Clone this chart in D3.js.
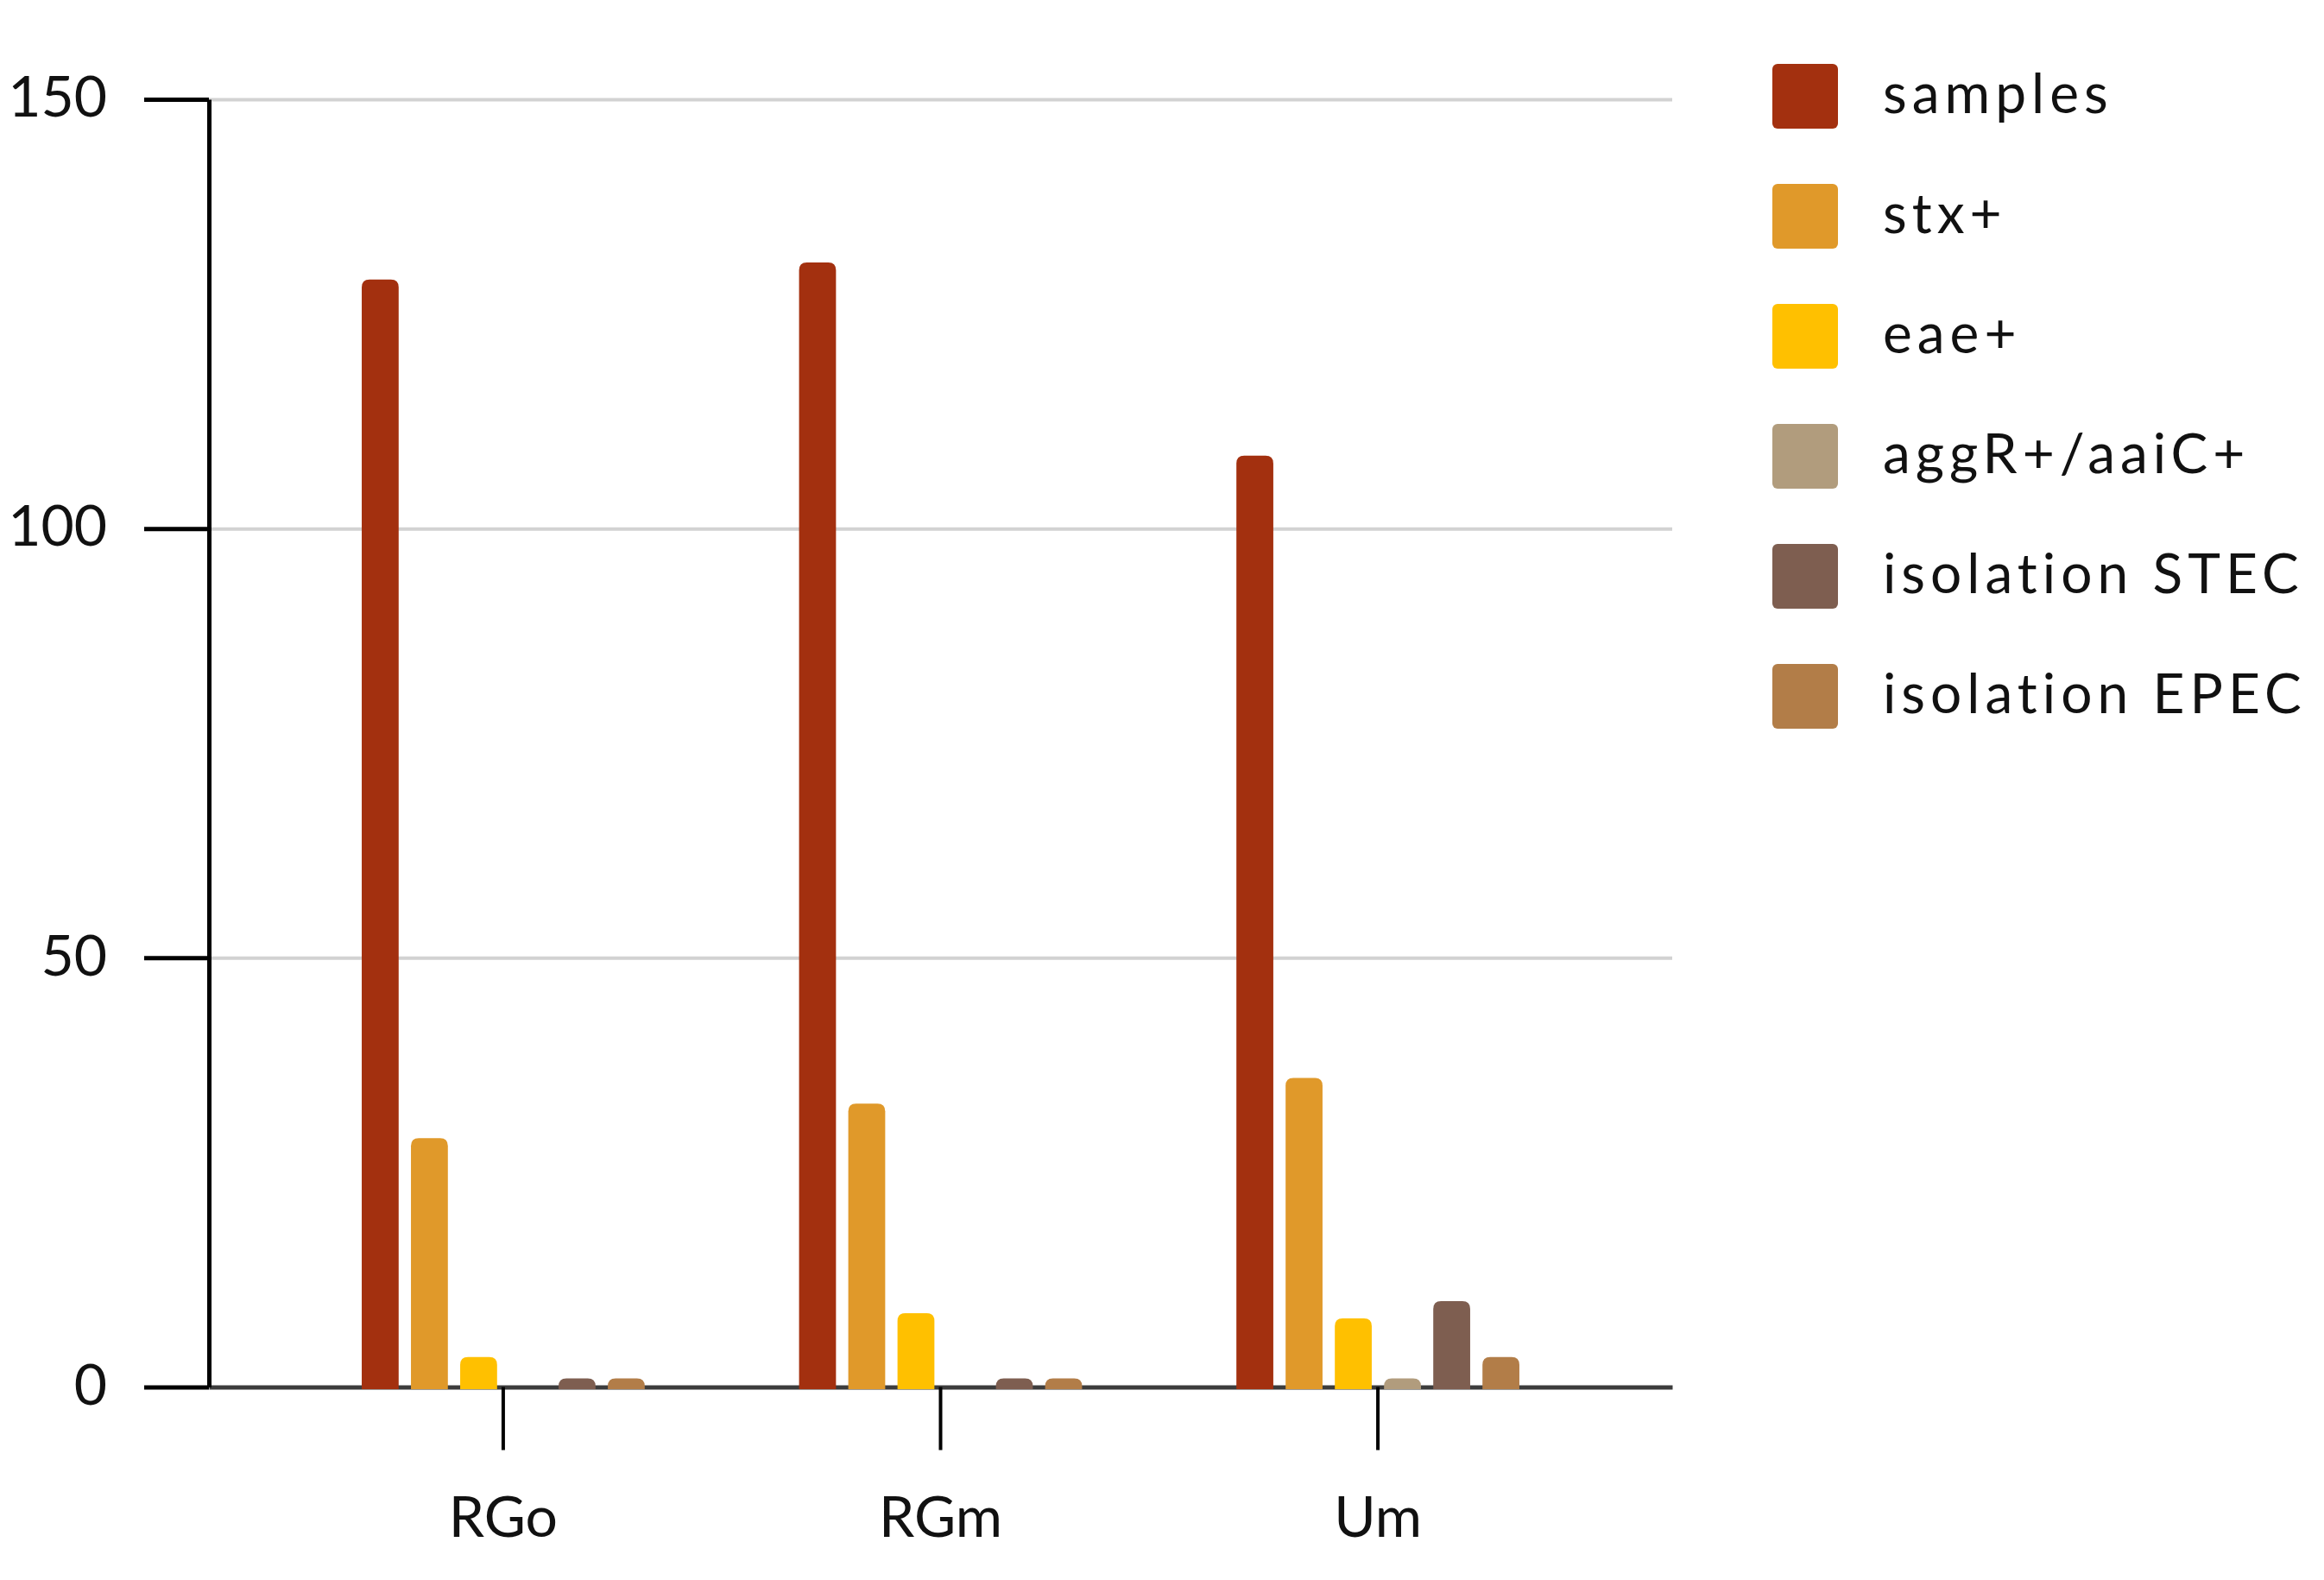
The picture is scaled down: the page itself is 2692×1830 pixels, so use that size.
<!DOCTYPE html>
<html>
<head>
<meta charset="utf-8">
<script src="https://cdn.jsdelivr.net/npm/d3@7"></script>
<style>
  body { margin: 0; background: #fff; }
  text { font-family: Lato, "Open Sans", sans-serif; fill: #111; }
</style>
</head>
<body>
<div id="chart"></div>
<script>
const categories = ["RGo", "RGm", "Um"];
const series = ["samples", "stx+", "eae+", "aggR+/aaiC+", "isolation STEC", "isolation EPEC"];
const colors = ["#a3300f", "#e0992a", "#ffc000", "#b19c7d", "#7e5e50", "#b27d48"];
// values per category, in series order
const valuesRGo = [129, 29, 3.5, 0, 1, 1];
const valuesRGm = [131, 33, 8.6, 0, 1, 1];
const valuesUm = [108.5, 36, 8, 1, 10, 3.5];
const yTicks = [0, 50, 100, 150];

const values = [valuesRGo, valuesRGm, valuesUm];

const width = 2692;
const height = 1830;
const plotLeft = 242, plotRight = 1937, plotTop = 115, plotBottom = 1606.5;

const svg = d3.select("#chart")
    .append("svg")
    .attr("width", width)
    .attr("height", height);

const x0 = d3.scaleBand()
    .domain(categories)
    .range([plotLeft, plotRight])
    .paddingInner(0)
    .paddingOuter(0.173);

const x1 = d3.scaleBand()
    .domain(series)
    .range([0, x0.bandwidth()])
    .paddingInner(0.25)
    .paddingOuter(1.568);

const y = d3.scaleLinear()
    .domain([0, 150])
    .range([plotBottom, plotTop]);

const color = d3.scaleOrdinal().domain(series).range(colors);

// grid lines
svg.append("g")
    .attr("transform", `translate(${plotLeft},0)`)
    .call(d3.axisLeft(y).tickValues(yTicks.slice(1)).tickSize(-(plotRight - plotLeft)).tickFormat(""))
    .call(g => g.select(".domain").remove())
    .call(g => g.selectAll("line").attr("stroke", "#d2d2d2").attr("stroke-width", 4));

// x axis (baseline + category ticks)
const xAxis = svg.append("g")
    .attr("transform", `translate(0,${plotBottom})`)
    .call(d3.axisBottom(x0).tickSize(73).tickSizeOuter(0).tickPadding(54));
xAxis.select(".domain").attr("stroke", "#3c3c3c").attr("stroke-width", 5);
xAxis.selectAll(".tick line").attr("stroke", "#000").attr("stroke-width", 4);
xAxis.selectAll(".tick text")
    .attr("font-size", 66)
    .attr("font-family", "Lato, sans-serif")
    .attr("fill", "#111");

// y axis
const yAxis = svg.append("g")
    .attr("transform", `translate(${plotLeft},0)`)
    .call(d3.axisLeft(y).tickValues(yTicks).tickSize(75).tickSizeOuter(0).tickPadding(43));
yAxis.select(".domain").attr("stroke", "#000").attr("stroke-width", 5);
yAxis.selectAll(".tick line").attr("stroke", "#000").attr("stroke-width", 5);
yAxis.selectAll(".tick text")
    .attr("font-size", 66)
    .attr("font-family", "Lato, sans-serif")
    .attr("dy", "0.3em")
    .attr("fill", "#111");

// bars with rounded tops
function roundTop(x, yTop, w, h, r) {
    r = Math.min(r, h, w / 2);
    return `M${x},${yTop + h}V${yTop + r}Q${x},${yTop} ${x + r},${yTop}` +
        `H${x + w - r}Q${x + w},${yTop} ${x + w},${yTop + r}V${yTop + h}Z`;
}

const groups = svg.append("g")
    .selectAll("g")
    .data(categories)
    .join("g")
    .attr("transform", d => `translate(${x0(d)},0)`);

groups.selectAll("path")
    .data((d, i) => series.map((s, j) => ({ key: s, value: values[i][j] })).filter(d => d.value > 0))
    .join("path")
    .attr("d", d => roundTop(x1(d.key), y(d.value), x1.bandwidth(), y(0) - y(d.value) + 2.5, 9))
    .attr("fill", d => color(d.key));

// legend
const legend = svg.append("g")
    .selectAll("g")
    .data(series)
    .join("g")
    .attr("transform", (d, i) => `translate(2053,${111.5 + i * 139})`);

legend.append("rect")
    .attr("x", 0)
    .attr("y", -37.5)
    .attr("width", 76)
    .attr("height", 75)
    .attr("rx", 6)
    .attr("fill", d => color(d));

legend.append("text")
    .attr("x", 128)
    .attr("dy", "0.3em")
    .attr("font-size", 64)
    .attr("letter-spacing", "6px")
    .text(d => d);
</script>
</body>
</html>
